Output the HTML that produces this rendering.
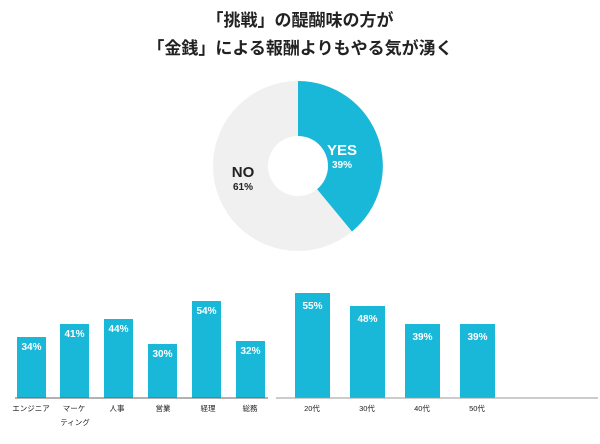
<!DOCTYPE html>
<html><head><meta charset="utf-8"><style>
body{margin:0;width:600px;height:439px;background:#fff;overflow:hidden;font-family:"Liberation Sans","Noto Sans CJK JP",sans-serif}
</style></head><body>
<svg width="600" height="439" viewBox="0 0 600 439" xmlns="http://www.w3.org/2000/svg" font-family="Liberation Sans, Noto Sans CJK JP, sans-serif">
<text x="300" y="26" text-anchor="middle" font-size="17" font-weight="bold" fill="#222">「挑戦」の醍醐味の方が</text>
<text x="300" y="54" text-anchor="middle" font-size="17" font-weight="bold" fill="#222">「金銭」による報酬よりもやる気が湧く</text>
<circle cx="298" cy="166" r="85" fill="#f0f0f0"/>
<path d="M298 81 A85 85 0 0 1 352 231.5 L298 166 Z" fill="#1ab8d8"/>
<circle cx="298" cy="166" r="30" fill="#fff"/>
<text x="342" y="155" text-anchor="middle" font-size="15" font-weight="bold" fill="#fff">YES</text>
<text x="342" y="168" text-anchor="middle" font-size="10" font-weight="bold" fill="#fff">39%</text>
<text x="243" y="177" text-anchor="middle" font-size="15" font-weight="bold" fill="#222">NO</text>
<text x="243" y="190" text-anchor="middle" font-size="10" font-weight="bold" fill="#222">61%</text>
<g fill="#1ab8d8">
<rect x="17" y="337" width="29" height="61"/>
<rect x="60" y="324" width="29" height="74"/>
<rect x="104" y="319" width="29" height="79"/>
<rect x="148" y="344" width="29" height="54"/>
<rect x="192" y="301" width="29" height="97"/>
<rect x="236" y="341" width="29" height="57"/>
<rect x="295" y="293" width="35" height="105"/>
<rect x="350" y="306" width="35" height="92"/>
<rect x="405" y="324" width="35" height="74"/>
<rect x="460" y="324" width="35" height="74"/>
</g>
<line x1="15" y1="398" x2="268" y2="398" stroke="#666" stroke-width="1"/>
<line x1="276" y1="398" x2="598" y2="398" stroke="#999" stroke-width="1"/>
<g font-size="10" font-weight="bold" fill="#fff" text-anchor="middle">
<text x="31.5" y="350">34%</text><text x="74.5" y="337">41%</text><text x="118.5" y="332">44%</text>
<text x="162.5" y="357">30%</text><text x="206.5" y="314">54%</text><text x="250.5" y="354">32%</text>
<text x="312.5" y="309">55%</text><text x="367.5" y="322">48%</text><text x="422.5" y="340">39%</text><text x="477.5" y="340">39%</text>
</g>
<g font-size="7.5" fill="#222" text-anchor="middle">
<text x="31" y="411">エンジニア</text>
<text x="74" y="411">マーケ</text>
<text x="75" y="425">ティング</text>
<text x="117" y="411">人事</text>
<text x="163" y="411">営業</text>
<text x="208" y="411">経理</text>
<text x="250" y="411">総務</text>
<text x="312" y="411">20代</text>
<text x="367" y="411">30代</text>
<text x="422" y="411">40代</text>
<text x="477" y="411">50代</text>
</g>
</svg>
</body></html>
